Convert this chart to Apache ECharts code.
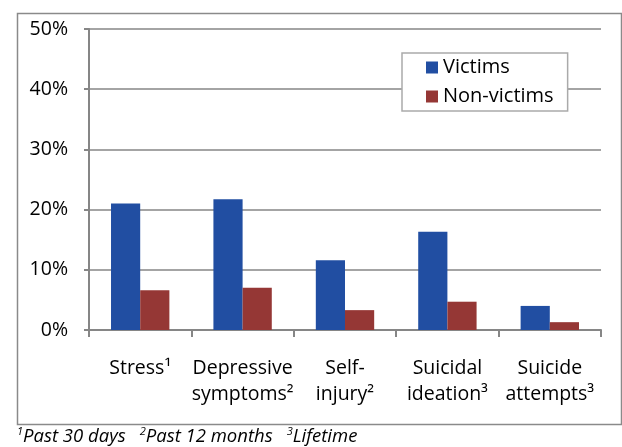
<!DOCTYPE html>
<html>
<head>
<meta charset="utf-8">
<script src="https://cdn.jsdelivr.net/npm/echarts@6/dist/echarts.min.js"></script>
<style>
html,body{margin:0;padding:0;background:#fff;}
#chart{width:622px;height:447px;}
</style>
</head>
<body>
<div id="chart"></div>
<script>
var categories = ['Stress\u00B9', 'Depressive\nsymptoms\u00B2', 'Self-\ninjury\u00B2', 'Suicidal\nideation\u00B3', 'Suicide\nattempts\u00B3'];
var victims = [21.0, 21.7, 11.6, 16.3, 4.0];
var nonVictims = [6.6, 7.0, 3.3, 4.7, 1.3];
var yTicks = [0, 10, 20, 30, 40, 50];
var seriesNames = ['Victims', 'Non-victims'];
var footnote = [['1', 'Past 30 days'], ['2', 'Past 12 months'], ['3', 'Lifetime']];

var FONT = 'Open Sans';
var GRAY = '#868686';

var footText = footnote.map(function (f) { return '{s|' + f[0] + '}{t|' + f[1] + '}'; }).join('{g| }');

var chart = echarts.init(document.getElementById('chart'));
chart.setOption({
  animation: false,
  backgroundColor: '#fff',
  textStyle: { fontFamily: FONT },
  grid: { left: 89, right: 21, top: 29, bottom: 117, containLabel: false },
  legend: {
    data: seriesNames,
    orient: 'vertical',
    left: 402,
    top: 53,
    padding: [3, 14, 3, 24],
    itemGap: 6,
    itemWidth: 12,
    itemHeight: 12,
    borderColor: '#aaa',
    borderWidth: 1.5,
    backgroundColor: '#fff',
    icon: 'rect',
    textStyle: { fontSize: 20, lineHeight: 23, color: '#000', fontFamily: FONT }
  },
  xAxis: {
    type: 'category',
    data: categories,
    axisLine: { lineStyle: { color: GRAY, width: 2 } },
    axisTick: { show: true, length: 7, lineStyle: { color: GRAY, width: 2 } },
    axisLabel: { interval: 0, fontSize: 19.5, lineHeight: 26, color: '#000', margin: 25, fontFamily: FONT }
  },
  yAxis: {
    type: 'value',
    min: yTicks[0],
    max: yTicks[yTicks.length - 1],
    interval: 10,
    axisLine: { show: true, lineStyle: { color: GRAY, width: 2 } },
    axisTick: { show: true, length: 5, lineStyle: { color: GRAY, width: 2 } },
    splitLine: { lineStyle: { color: GRAY, width: 1.5 } },
    axisLabel: { formatter: '{value}%', fontSize: 19.5, color: '#000', margin: 21, fontFamily: FONT }
  },
  series: [
    { name: seriesNames[0], type: 'bar', data: victims, barGap: '0%', barCategoryGap: '43%', itemStyle: { color: '#214EA2' } },
    { name: seriesNames[1], type: 'bar', data: nonVictims, barGap: '0%', barCategoryGap: '43%', itemStyle: { color: '#953735' } }
  ],
  graphic: [
    { type: 'rect', left: 15, top: 11, shape: { width: 604, height: 411 }, style: { fill: 'none', stroke: '#8a8a8a', lineWidth: 1.5 }, silent: true },
    { type: 'text', left: 17, top: 426, style: {
        text: footText,
        fontFamily: FONT,
        rich: {
          s: { fontSize: 11, fontStyle: 'italic', verticalAlign: 'top', lineHeight: 22, fill: '#000', fontFamily: FONT },
          t: { fontSize: 18.5, fontStyle: 'italic', lineHeight: 22, fill: '#000', fontFamily: FONT },
          g: { width: 14, lineHeight: 22, fontSize: 18.5 }
        }
      } }
  ]
});
</script>
</body>
</html>
